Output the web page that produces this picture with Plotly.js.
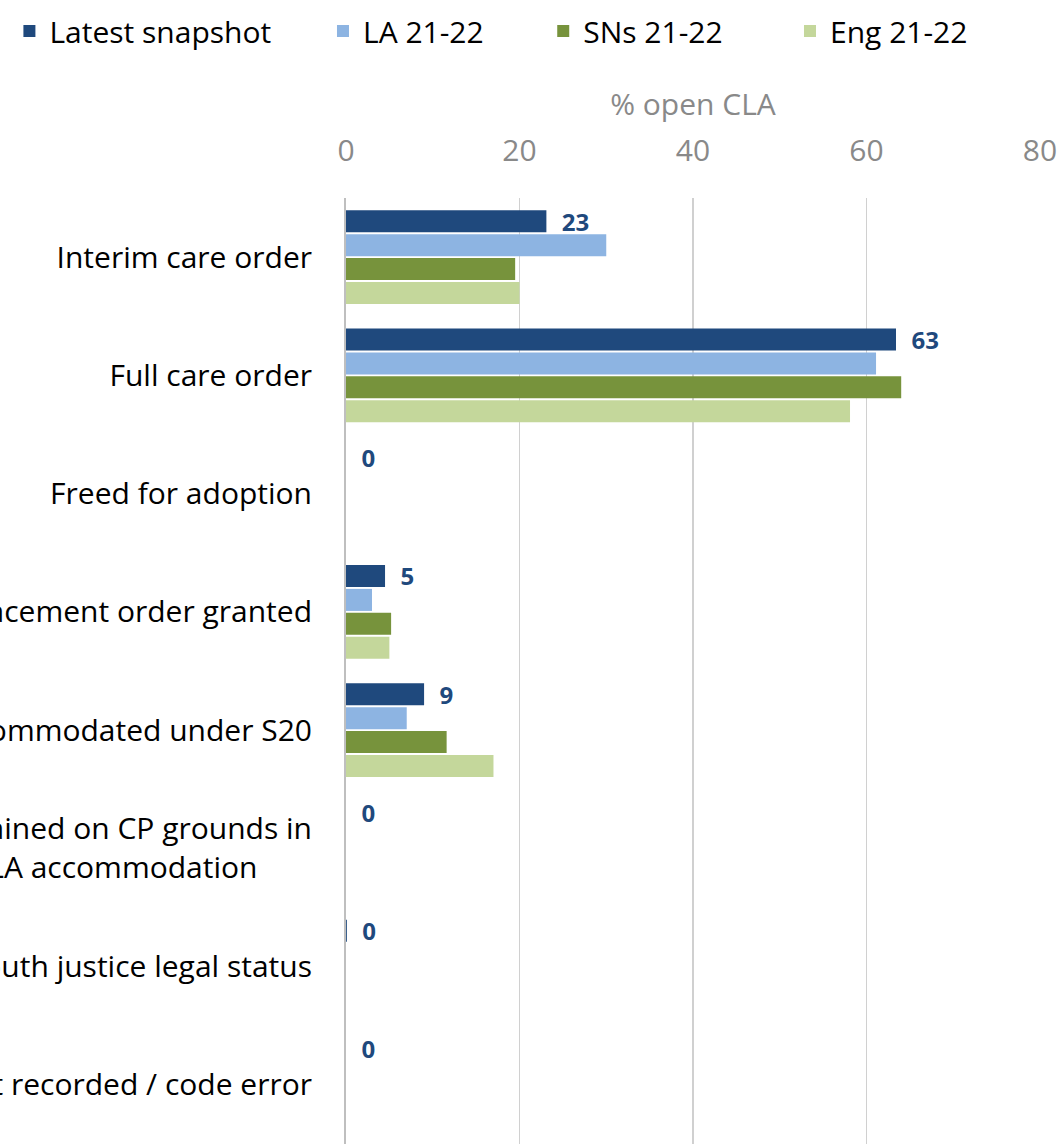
<!DOCTYPE html>
<html>
<head>
<meta charset="utf-8">
<script src="https://cdn.plot.ly/plotly-3.0.1.min.js"></script>
<style>
html,body{margin:0;padding:0;background:#fff;}
#chart{width:1059px;height:1144px;}
</style>
</head>
<body>
<div id="chart"></div>
<script>
const categories = [
  "Interim care order",
  "Full care order",
  "Freed for adoption",
  "Placement order granted",
  "Accommodated under S20",
  "Detained on CP grounds in<br>LA accommodation\u00a0\u00a0\u00a0\u00a0\u00a0\u00a0\u00a0",
  "Youth justice legal status",
  "Not recorded / code error"
];
const seriesNames = ["Latest snapshot", "LA 21-22", "SNs 21-22", "Eng 21-22"];
const latestSnapshot = [23.1, 63.4, 0, 4.5, 9.0, 0, 0.1, 0];
const la2122 = [30.0, 61.1, 0, 3.0, 7.0, 0, 0, 0];
const sns2122 = [19.5, 64.0, 0, 5.2, 11.6, 0, 0, 0];
const eng2122 = [20.0, 58.1, 0, 5.0, 17.0, 0, 0, 0];
const colors = ["#1F497D", "#8DB4E2", "#77933C", "#C4D79B"];

const font = "Open Sans, Noto Sans, sans-serif";
const allValues = [latestSnapshot, la2122, sns2122, eng2122];
const legendPads = [6, 7, 8, 0];

const traces = allValues.map((vals, i) => {
  const t = {
    type: "bar",
    orientation: "h",
    name: seriesNames[i] + "\u00a0".repeat(legendPads[i]),
    x: vals,
    y: categories,
    marker: {color: colors[i], line: {width: 0}},
    hoverinfo: "x+name"
  };
  if (i === 0) {
    t.texttemplate = "\u00a0\u00a0%{x:.0f}";
    t.textposition = "outside";
    t.constraintext = "none";
    t.cliponaxis = false;
    t.textfont = {family: font, size: 24, color: "#1F497D", weight: "bold"};
  }
  return t;
});

const layout = {
  width: 1059,
  height: 1144,
  margin: {l: 346, r: 19, t: 198, b: 0, autoexpand: false},
  paper_bgcolor: "#fff",
  plot_bgcolor: "#fff",
  barmode: "group",
  bargap: 0.19,
  bargroupgap: 0.08,
  font: {family: font, size: 30, color: "#000"},
  showlegend: true,
  legend: {
    orientation: "h",
    x: -0.485,
    xanchor: "left",
    y: 1.204,
    yanchor: "top",
    font: {family: font, size: 30, color: "#000"},
    traceorder: "normal",
    itemwidth: 30
  },
  xaxis: {
    side: "top",
    range: [0, 80],
    dtick: 20,
    tick0: 0,
    showgrid: true,
    gridcolor: "#d0d0d0",
    gridwidth: 1.5,
    zeroline: false,
    showline: false,
    ticks: "",
    ticklabelstandoff: 30,
    tickfont: {family: font, size: 30, color: "#898989"},
    title: {text: "% open CLA", font: {family: font, size: 30, color: "#898989"}, standoff: 4},
    fixedrange: true
  },
  yaxis: {
    type: "category",
    autorange: "reversed",
    showgrid: false,
    zeroline: false,
    showline: true,
    linecolor: "#bfbfbf",
    linewidth: 2,
    ticks: "",
    ticklabelstandoff: 26,
    tickfont: {family: font, size: 30, color: "#000"},
    automargin: false,
    fixedrange: true
  }
};

Plotly.newPlot("chart", traces, layout, {displayModeBar: false, staticPlot: true});
</script>
</body>
</html>
